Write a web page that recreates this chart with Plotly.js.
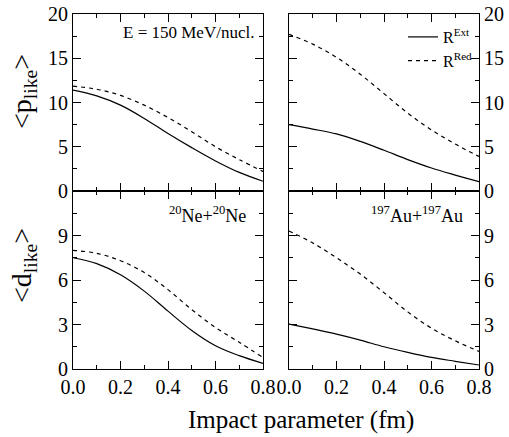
<!DOCTYPE html>
<html><head><meta charset="utf-8">
<script src="https://cdn.plot.ly/plotly-3.0.1.min.js"></script>
<style>html,body{margin:0;padding:0;background:#fff}#chart{width:509px;height:437px}
#chart text{font-family:'Liberation Serif','Times New Roman',serif !important}</style>
</head><body><div id="chart"></div>
<script>
// Impact parameter (fm)
const b = [0.0, 0.1, 0.2, 0.3, 0.4, 0.5, 0.6, 0.7, 0.8];
// <p_like>, Ne+Ne
const pNeExt = [11.4, 10.75, 9.7, 8.2, 6.5, 4.9, 3.4, 2.1, 1.1];
const pNeRed = [11.85, 11.5, 10.8, 9.7, 8.3, 6.7, 5.0, 3.55, 2.2];
// <p_like>, Au+Au
const pAuExt = [7.5, 7.0, 6.45, 5.6, 4.6, 3.55, 2.6, 1.8, 1.05];
const pAuRed = [17.7, 16.6, 15.1, 13.2, 11.0, 8.8, 6.9, 5.3, 3.9];
// <d_like>, Ne+Ne
const dNeExt = [7.5, 7.1, 6.35, 5.25, 3.9, 2.6, 1.57, 0.9, 0.38];
const dNeRed = [8.0, 7.8, 7.3, 6.5, 5.35, 4.0, 2.8, 1.8, 0.78];
// <d_like>, Au+Au
const dAuExt = [3.03, 2.7, 2.35, 1.95, 1.5, 1.12, 0.78, 0.52, 0.27];
const dAuRed = [9.3, 8.5, 7.5, 6.4, 5.15, 3.85, 2.75, 1.9, 1.19];

const serif = 'Liberation Serif';
function tr(y, xa, ya, dashed, name, legend) {
  return {x: b, y: y, xaxis: xa, yaxis: ya, type: 'scatter', mode: 'lines',
    name: name, showlegend: !!legend,
    line: {color: 'black', width: 1.2, shape: 'spline', smoothing: 1, dash: dashed ? '4px,4px' : 'solid'}};
}
const data = [
  tr(pNeExt, 'x', 'y', false), tr(pNeRed, 'x', 'y', true),
  tr(pAuExt, 'x2', 'y2', false, 'R<sup>Ext</sup>', true), tr(pAuRed, 'x2', 'y2', true, 'R<sup>Red</sup>', true),
  tr(dNeExt, 'x3', 'y3', false), tr(dNeRed, 'x3', 'y3', true),
  tr(dAuExt, 'x4', 'y4', false), tr(dAuRed, 'x4', 'y4', true)
];
const W = 509, H = 437;
const xL = [73 / W, 263 / W], xR = [289 / W, 479 / W];
const yT = [(H - 191) / H, (H - 14) / H], yB = [(H - 369) / H, (H - 191) / H];
const tickFont = {family: serif, size: 20, color: 'black'};
function xax(dom, anchor, labels) {
  return {domain: dom, anchor: anchor, range: [0, 0.8], dtick: 0.2, tick0: 0, tickformat: '.1f',
    showticklabels: labels, ticks: 'inside', ticklen: 8, tickwidth: 1, tickcolor: 'black',
    showline: true, linecolor: 'black', linewidth: 1, mirror: 'allticks', showgrid: false, zeroline: false,
    tickfont: tickFont, fixedrange: true,
    minor: {dtick: 0.1, tick0: 0, ticks: 'inside', ticklen: 4, tickcolor: 'black', showgrid: false}};
}
function yax(dom, anchor, range, vals, minorDt, side) {
  return {domain: dom, anchor: anchor, range: range, tickvals: vals, side: side,
    ticks: 'inside', ticklen: 8, tickwidth: 1, tickcolor: 'black',
    showline: true, linecolor: 'black', linewidth: 1, mirror: 'allticks', showgrid: false, zeroline: false,
    tickfont: tickFont, fixedrange: true,
    minor: {dtick: minorDt, tick0: 0, ticks: 'inside', ticklen: 4, tickcolor: 'black', showgrid: false}};
}
const layout = {
  width: W, height: H, margin: {l: 0, r: 0, t: 0, b: 0},
  paper_bgcolor: 'white', plot_bgcolor: 'white',
  font: {family: serif, color: 'black'},
  xaxis: xax(xL, 'y', false), yaxis: yax(yT, 'x', [0, 20], [0, 5, 10, 15, 20], 2.5, 'left'),
  xaxis2: xax(xR, 'y2', false), yaxis2: yax(yT, 'x2', [0, 20], [0, 5, 10, 15, 20], 2.5, 'right'),
  xaxis3: xax(xL, 'y3', true), yaxis3: yax(yB, 'x3', [0, 12], [0, 3, 6, 9], 1.5, 'left'),
  xaxis4: xax(xR, 'y4', true), yaxis4: yax(yB, 'x4', [0, 12], [0, 3, 6, 9], 1.5, 'right'),
  showlegend: true,
  legend: {x: 478 / W, xanchor: 'right', y: (H - 20) / H, yanchor: 'top', bgcolor: 'rgba(0,0,0,0)',
    font: {family: serif, size: 16, color: 'black'}, itemwidth: 30, tracegroupgap: 0},
  annotations: [
    {text: 'E = 150 MeV/nucl.', xref: 'paper', yref: 'paper', x: 256 / W, y: (H - 33) / H,
      xanchor: 'right', yanchor: 'middle', showarrow: false, font: {family: serif, size: 17}},
    {text: '<sup>20</sup>Ne+<sup>20</sup>Ne', xref: 'paper', yref: 'paper', x: 248 / W, y: (H - 214) / H,
      xanchor: 'right', yanchor: 'middle', showarrow: false, font: {family: serif, size: 18}},
    {text: '<sup>197</sup>Au+<sup>197</sup>Au', xref: 'paper', yref: 'paper', x: 465 / W, y: (H - 214) / H,
      xanchor: 'right', yanchor: 'middle', showarrow: false, font: {family: serif, size: 18}},
    {text: '&lt;p<sub>like</sub>&gt;', xref: 'paper', yref: 'paper', x: 23 / W, y: (H - 92) / H,
      xanchor: 'center', yanchor: 'middle', textangle: -90, showarrow: false, font: {family: serif, size: 28}},
    {text: '&lt;d<sub>like</sub>&gt;', xref: 'paper', yref: 'paper', x: 23 / W, y: (H - 266) / H,
      xanchor: 'center', yanchor: 'middle', textangle: -90, showarrow: false, font: {family: serif, size: 28}},
    {text: 'Impact parameter (fm)', xref: 'paper', yref: 'paper', x: 301 / W, y: (H - 420) / H,
      xanchor: 'center', yanchor: 'middle', showarrow: false, font: {family: serif, size: 25}}
  ]
};
Plotly.newPlot('chart', data, layout, {displayModeBar: false, staticPlot: true});
</script></body></html>
